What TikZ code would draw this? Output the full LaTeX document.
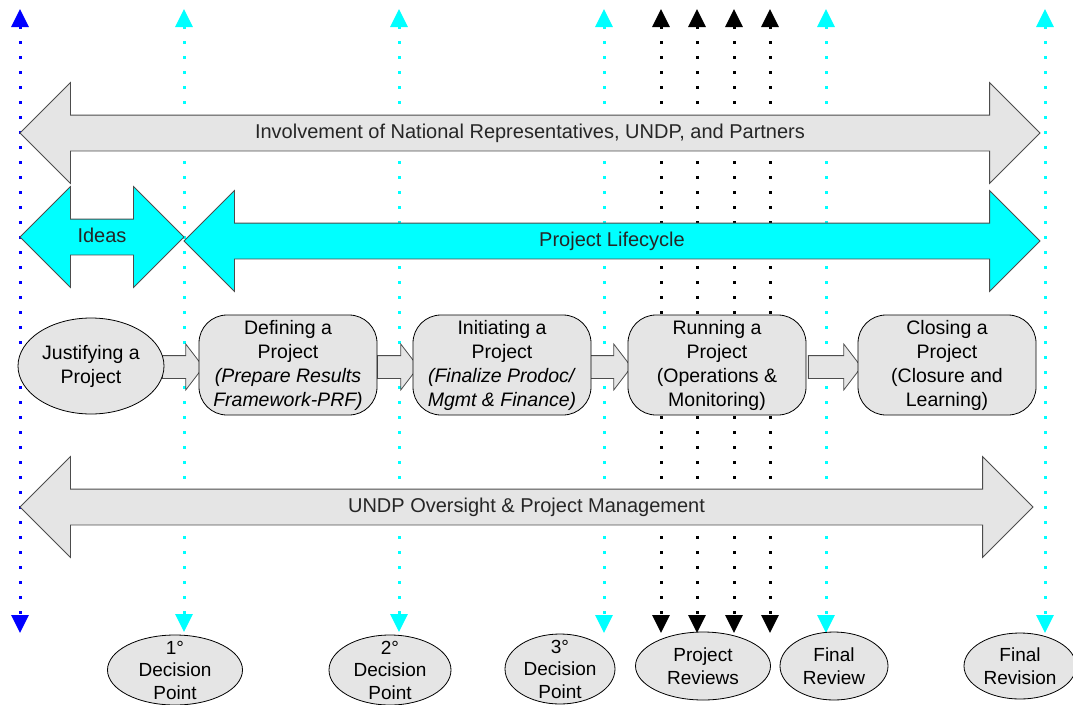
\documentclass[tikz,border=0pt]{standalone}
\usepackage{fontspec}
\setmainfont{Liberation Sans}
\usepackage{tikz}
\usetikzlibrary{shapes,arrows.meta,positioning,calc}

\definecolor{aqua}{RGB}{0,255,255}
\definecolor{pureblue}{RGB}{0,0,255}

\begin{document}
\begin{tikzpicture}[x=1pt, y=-1pt, font=\fontsize{19.5}{24}\selectfont,
    band/.style={double arrow, draw=black!70, thick, fill=gray!20, double arrow head extend=32.5pt, double arrow tip angle=90, inner xsep=0pt, inner ysep=8.5pt, text height=14pt, text depth=4pt, text=black!85, font=\fontsize{20}{24}\selectfont},
    phase/.style={band, fill=aqua},
    start/.style={ellipse, draw, thick, fill=gray!20, minimum width=146pt, minimum height=96pt, align=center, inner sep=0pt},
    stage/.style={rectangle, draw, thick, fill=gray!20, rounded corners=28pt, minimum width=178pt, minimum height=100pt, align=center, inner sep=0pt},
    link/.style={single arrow, draw=black!70, thick, fill=gray!20, single arrow head extend=11.5pt, single arrow tip angle=105, inner xsep=0pt, inner ysep=11pt},
    milestone/.style={ellipse, draw, thick, fill=gray!20, minimum height=70pt, align=center, inner xsep=0pt, inner ysep=-8pt, font=\fontsize{19}{22.5}\selectfont},
    guide/.style={line width=3pt, dash pattern=on 3pt off 12pt, {Triangle[width=17pt,length=18pt]}-{Triangle[width=17pt,length=18pt]}}]

    \useasboundingbox (0,0) rectangle (1073,704);

    % Guide lines
    \coordinate (g1t) at (20,9);    \coordinate (g1b) at (20,633);
    \coordinate (g2t) at (184,9);   \coordinate (g2b) at (184,632);
    \coordinate (g3t) at (399,9);   \coordinate (g3b) at (399,632);
    \coordinate (g4t) at (604,9);   \coordinate (g4b) at (604,633);
    \coordinate (r1t) at (661,9);   \coordinate (r1b) at (661,633);
    \coordinate (r2t) at (697,9);   \coordinate (r2b) at (697,633);
    \coordinate (r3t) at (734,9);   \coordinate (r3b) at (734,633);
    \coordinate (r4t) at (770,9);   \coordinate (r4b) at (770,633);
    \coordinate (g5t) at (826,9);   \coordinate (g5b) at (826,633);
    \coordinate (g6t) at (1045,9);  \coordinate (g6b) at (1045,633);

    \draw[guide, pureblue] (g1t) -- (g1b);
    \draw[guide, aqua] (g2t) -- (g2b);
    \draw[guide, aqua] (g3t) -- (g3b);
    \draw[guide, aqua] (g4t) -- (g4b);
    \draw[guide, black] (r1t) -- (r1b);
    \draw[guide, black] (r2t) -- (r2b);
    \draw[guide, black] (r3t) -- (r3b);
    \draw[guide, black] (r4t) -- (r4b);
    \draw[guide, aqua] (g5t) -- (g5b);
    \draw[guide, aqua] (g6t) -- (g6b);

    % Bands
    \node[band, minimum height=1020pt] (involve) at (530,133) {Involvement of National Representatives, UNDP, and Partners};
    \node[phase, minimum height=164pt] (ideas) at (102,237) {Ideas};
    \node[phase, minimum height=856pt] (cycle) at (612,241) {Project Lifecycle};
    \node[band, minimum height=1013pt] (oversight) at (526.5,507) {UNDP Oversight \& Project Management};

    % Links
    \node[link, minimum height=41pt] (l1) at (178.5,367) {};
    \node[link, minimum height=41pt] (l2) at (393.5,367) {};
    \node[link, minimum height=41pt] (l3) at (606.5,367) {};
    \node[link, minimum height=53pt] (l4) at (830.5,367) {};

    % Stages
    \node[start] (justify) at (91,366) {Justifying a\\Project};
    \node[stage] (define) at (288,365) {Defining a\\Project\\\textit{(Prepare Results}\\\textit{Framework-PRF)}};
    \node[stage] (initiate) at (502,365) {Initiating a\\Project\\\textit{(Finalize Prodoc/}\\\textit{Mgmt \& Finance)}};
    \node[stage] (run) at (717,365) {Running a\\Project\\(Operations \&\\Monitoring)};
    \node[stage] (close) at (947,365) {Closing a\\Project\\(Closure and\\Learning)};

    % Milestones
    \node[milestone, minimum width=135pt] (dp1) at (175,670) {1°\\Decision\\Point};
    \node[milestone, minimum width=122pt] (dp2) at (390,670) {2°\\Decision\\Point};
    \node[milestone, minimum width=110pt] (dp3) at (560,669) {3°\\Decision\\Point};
    \node[milestone, minimum width=135pt, minimum height=68pt] (reviews) at (703,666) {Project\\Reviews};
    \node[milestone, minimum width=108pt, minimum height=68pt] (freview) at (834,666) {Final\\Review};
    \node[milestone, minimum width=112pt, minimum height=66pt] (frevision) at (1020,666) {Final\\Revision};

\end{tikzpicture}
\end{document}
